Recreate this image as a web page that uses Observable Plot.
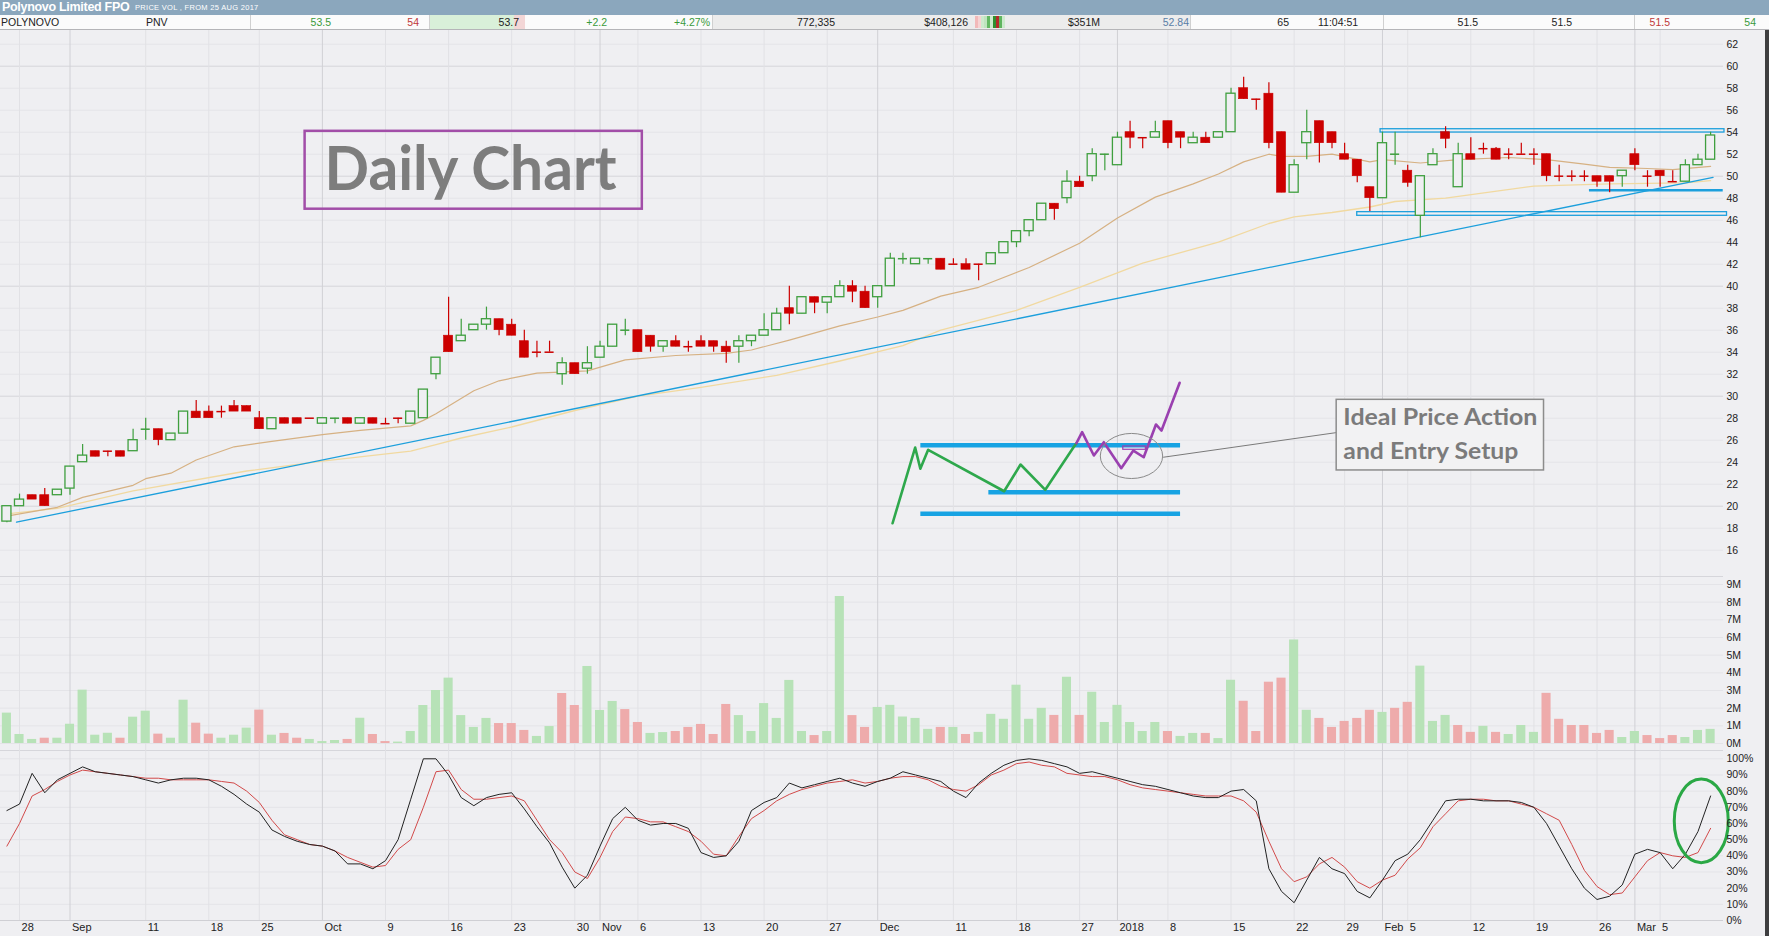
<!DOCTYPE html>
<html><head><meta charset="utf-8">
<script src="https://cdn.jsdelivr.net/npm/d3@7"></script>
<script src="https://cdn.jsdelivr.net/npm/@observablehq/plot@0.6"></script>
<style>
body{margin:0;width:1769px;height:936px;overflow:hidden;background:#efeff2;font-family:"Liberation Sans",Arial,sans-serif;position:relative}
.abs{position:absolute;white-space:nowrap}
#title{left:0;top:0;width:1769px;height:15px;background:#8ba7bd;color:#fff}
#row{left:0;top:15px;width:1769px;height:14px;background:#fbfbfb;border-bottom:1px solid #b5b5b8;font-size:10.5px;line-height:14px;color:#222}
.r{position:absolute;top:0;text-align:right;white-space:nowrap}
.l{position:absolute;top:0;white-space:nowrap}
.sep{position:absolute;top:0;width:1px;height:14px;background:#d0d0d0}
.g{color:#3a9a3a}.rd{color:#c03838}
</style></head><body>
<div id="title" class="abs">
  <span class="abs" style="left:2px;top:0;font-weight:bold;font-size:12.5px;line-height:15px;letter-spacing:-0.3px">Polynovo Limited FPO</span>
  <span class="abs" style="left:135px;top:0;font-size:7.5px;line-height:16px;letter-spacing:0.3px">PRICE VOL , FROM 25 AUG 2017</span>
</div>
<div id="row" class="abs">
  <div class="abs" style="left:429px;top:0;width:85px;height:14px;background:#d9f0d9"></div>
  <div class="abs" style="left:514px;top:0;width:11px;height:14px;background:#f3d6d6"></div>
  <div class="abs" style="left:712px;top:0;width:478px;height:14px;background:#ececec"></div>
  <div class="sep" style="left:250px"></div><div class="sep" style="left:429px"></div>
  <div class="sep" style="left:712px"></div><div class="sep" style="left:1190px"></div>
  <div class="sep" style="left:1383px"></div><div class="sep" style="left:1634px"></div>
  <span class="l" style="left:1px">POLYNOVO</span>
  <span class="l" style="left:146px">PNV</span>
  <span class="r g" style="right:1438px">53.5</span>
  <span class="r rd" style="right:1350px">54</span>
  <span class="r" style="right:1250px">53.7</span>
  <span class="r g" style="right:1162px">+2.2</span>
  <span class="r g" style="right:1059px">+4.27%</span>
  <span class="r" style="right:934px">772,335</span>
  <span class="r" style="right:801px">$408,126</span>
  <div id="mini" class="abs" style="left:970px;top:1px"></div>
  <span class="r" style="right:669px">$351M</span>
  <span class="r" style="right:580px;color:#5a7ea6">52.84</span>
  <span class="r" style="right:480px">65</span>
  <span class="l" style="left:1318px">11:04:51</span>
  <span class="r" style="right:291px">51.5</span>
  <span class="r" style="right:197px">51.5</span>
  <span class="r rd" style="right:99px">51.5</span>
  <span class="r g" style="right:13px">54</span>
</div>
<div id="price" class="abs" style="left:0;top:30px"></div>
<div class="abs" style="left:0;top:576px;width:1723px;height:1px;background:#d6d6db"></div>
<div id="vol" class="abs" style="left:0;top:577px"></div>
<div class="abs" style="left:0;top:750px;width:1723px;height:1px;background:#d6d6db"></div>
<div id="stoch" class="abs" style="left:0;top:750px"></div>
<div class="abs" style="left:1765px;top:30px;width:4px;height:906px;background:#3e3e40"></div>
<script>
// ---------- DATA ----------
const open = [18.6,20.0,21.0,21.0,21.0,21.6,24.0,25.0,25.0,25.0,
25.0,27.0,27.0,26.0,26.6,28.6,28.6,28.6,29.1,29.1,
28.0,27.0,28.0,28.0,28.0,27.5,28.0,28.0,27.5,28.0,
27.5,28.0,27.5,28.0,32.0,35.5,35.0,36.0,36.5,37.0,
36.5,35.0,34.0,34.0,32.0,33.0,32.5,33.5,34.5,36.0,
36.0,35.5,34.5,35.0,34.5,35.0,35.0,34.5,34.5,35.0,
35.5,36.0,38.0,37.5,39.0,38.5,39.0,40.0,39.5,39.0,
40.0,42.5,42.0,42.5,42.5,42.0,42.0,42.0,42.0,43.0,
44.0,45.0,46.0,47.5,48.0,49.5,50.0,52.0,51.0,54.0,
53.5,53.5,55.0,54.0,53.0,53.5,53.5,54.0,58.0,57.0,
57.5,54.0,48.5,53.0,55.0,54.0,52.0,51.5,49.0,48.0,
52.0,50.5,46.4,51.0,54.0,49.0,52.0,52.5,52.5,52.0,
52.0,52.0,52.0,50.0,50.0,50.0,50.0,50.0,50.0,52.0,
50.0,50.5,49.5,49.5,51.0,51.5];
const high = [20.0,21.1,21.0,21.6,21.5,23.6,25.6,25.0,25.0,25.0,
27.0,28.0,27.0,26.6,28.6,29.6,29.1,29.1,29.6,29.1,
28.6,28.0,28.0,28.0,28.0,28.0,28.0,28.0,28.0,28.0,
28.0,28.0,28.6,30.6,33.5,39.0,37.0,36.5,38.1,37.0,
37.0,36.0,35.0,35.0,33.5,33.0,34.5,35.0,36.5,37.0,
36.0,35.5,35.0,35.5,35.0,35.5,35.0,35.0,35.5,35.5,
37.5,38.0,40.0,39.0,39.0,39.0,40.5,40.5,40.0,40.0,
43.0,43.0,42.5,42.5,42.5,42.5,42.5,42.0,43.0,44.0,
45.0,46.0,47.5,47.5,50.5,50.0,52.5,52.0,54.0,55.0,
53.5,55.0,55.0,54.0,54.0,54.0,54.0,58.0,59.0,57.0,
58.5,54.0,51.5,56.0,55.0,54.0,53.0,51.5,49.0,54.0,
54.0,51.0,50.0,52.5,54.5,53.0,53.5,53.0,52.6,52.5,
53.0,52.5,52.0,51.0,50.5,50.5,50.0,50.0,50.5,52.5,
50.5,50.5,50.5,51.5,52.0,54.0];
const low = [18.5,20.0,20.6,20.0,21.0,21.0,24.0,24.5,24.5,24.5,
25.0,26.0,25.5,26.0,26.6,28.0,28.0,28.0,28.6,28.6,
27.0,27.0,27.5,27.5,28.0,27.5,27.5,27.5,27.5,27.5,
27.5,27.5,27.5,28.0,31.5,34.0,35.0,36.0,36.0,35.5,
35.5,33.5,33.5,34.0,31.0,32.0,32.0,33.5,34.5,35.5,
34.0,34.0,34.0,34.5,34.0,34.5,34.0,33.0,33.0,34.5,
35.5,36.0,36.5,37.5,37.5,37.5,39.0,38.5,38.0,38.0,
40.0,42.0,42.0,42.0,41.5,42.0,41.5,40.5,42.0,43.0,
43.5,44.5,46.0,46.0,47.5,49.0,49.5,50.5,51.0,52.5,
52.5,53.5,52.5,52.5,53.0,53.0,53.5,54.0,57.0,56.0,
52.5,48.5,48.5,51.5,51.2,52.5,51.5,49.4,46.8,48.0,
51.0,49.0,44.4,51.0,52.5,49.0,51.5,52.0,51.5,51.5,
52.0,51.0,49.5,49.5,49.5,49.5,49.0,48.5,49.0,50.5,
49.0,49.0,49.5,49.5,51.0,51.5];
const close = [20.0,20.6,20.6,20.0,21.5,23.6,24.6,24.5,25.0,24.5,
26.0,27.0,26.0,26.6,28.6,28.0,28.0,28.6,28.6,28.6,
27.0,28.0,27.5,27.5,28.0,28.0,28.0,27.5,28.0,27.5,
27.5,28.0,28.6,30.6,33.5,34.0,35.5,36.5,37.0,36.0,
35.5,33.5,34.0,34.0,33.0,32.0,33.0,34.5,36.5,36.0,
34.0,34.5,35.0,34.5,34.5,34.5,34.5,34.0,35.0,35.5,
36.0,37.5,37.5,39.0,38.5,39.0,40.0,39.5,38.0,40.0,
42.5,42.5,42.5,42.5,41.5,42.0,41.5,42.0,43.0,44.0,
45.0,46.0,47.5,47.0,49.5,49.0,52.0,52.0,53.5,53.5,
53.5,54.0,53.0,53.5,53.5,53.0,54.0,57.5,57.0,57.0,
53.0,48.5,51.0,54.0,53.0,53.0,51.5,50.0,48.0,53.0,
52.0,49.4,50.0,52.0,53.4,52.0,51.5,52.5,51.5,52.0,
52.0,52.0,50.0,50.0,50.0,50.0,49.5,49.5,50.5,51.0,
50.0,50.0,49.5,51.0,51.5,53.7];
// unchanged-price (doji) sessions drawn in green
const dojiGreen = [11,26,49,71,73,87,110];
// volume in millions of shares, and whether the session closed up (1) or down (0)
const volume = [1.72,0.51,0.23,0.30,0.30,1.09,3.02,0.47,0.58,0.30,
1.49,1.83,0.53,0.30,2.45,1.15,0.53,0.30,0.47,0.87,
1.89,0.47,0.57,0.30,0.23,0.11,0.17,0.23,1.43,0.51,
0.11,0.08,0.68,2.15,3.00,3.70,1.58,0.91,1.42,1.13,
1.13,0.74,0.40,0.96,2.83,2.15,4.36,1.87,2.38,1.92,
1.19,0.57,0.62,0.68,0.91,1.08,0.51,2.21,1.58,0.68,
2.26,1.42,3.57,0.68,0.45,0.68,8.32,1.58,0.91,2.04,
2.16,1.50,1.42,0.80,0.91,0.91,0.51,0.63,1.65,1.37,
3.30,1.37,1.99,1.59,3.75,1.59,2.90,1.19,2.16,1.19,
0.68,1.19,0.68,0.40,0.57,0.57,0.28,3.58,2.39,0.68,
3.47,3.70,5.86,1.88,1.42,0.91,1.25,1.42,1.88,1.76,
1.99,2.33,4.38,1.25,1.59,1.02,0.63,0.97,0.63,0.51,
1.02,0.63,2.84,1.37,1.02,1.02,0.57,0.74,0.34,0.68,
0.45,0.28,0.45,0.34,0.74,0.80];
const volUp = [1,1,1,0,1,1,1,1,1,0, 1,1,0,1,1,0,0,1,1,1, 0,1,0,0,1,1,1,0,1,0,
0,1,1,1,1,1,1,1,1,0, 0,0,1,1,0,0,1,1,1,0, 0,1,1,0,0,0,0,0,1,1,
1,1,1,1,0,1,1,0,0,1, 1,1,1,1,0,1,0,1,1,1, 1,1,1,0,1,0,1,1,1,1,
1,1,0,1,1,0,1,1,0,0, 0,0,1,1,0,0,0,0,0,1, 0,0,1,1,1,0,0,1,0,1,
1,1,0,0,0,0,0,0,1,1, 0,0,0,1,1,1];
// slow stochastic %K (black) and %D (red), percent
const stochK = [68,72,91,79,87,91,95,92,91,90, 89,87,85,87,88,88,87,83,78,72,
67,56,52,49,47,46,43,35,35,32, 37,50,75,100,100,90,76,71,76,78,
79,69,58,48,33,20,28,46,63,70, 62,59,60,60,57,42,39,40,49,68,
73,76,85,82,84,86,88,85,83,86, 88,92,90,88,86,80,76,85,91,96,
99,100,99,97,95,91,92,90,88,86, 84,83,81,79,77,76,76,80,81,74,
32,18,11,25,39,32,29,18,14,25, 37,41,50,62,74,75,75,74,74,74,
73,70,60,46,32,20,13,15,22,41, 44,42,32,41,55,77];
const stochD = [46,60,77,81,86,90,93,92,91,90, 89,88,88,87,87,87,87,86,85,80,
73,62,53,50,47,46,43,39,36,33, 34,44,50,70,92,93,81,75,75,76,
77,74,62,50,42,30,26,39,55,64, 63,61,61,58,55,49,41,40,52,63,
68,74,78,81,83,85,86,87,85,86, 88,89,89,87,83,81,80,84,90,93,
97,98,96,95,91,90,89,89,87,84, 82,81,80,79,78,77,77,77,74,67,
49,32,24,27,35,39,33,24,20,25, 28,38,45,58,66,74,75,75,74,74,
72,70,66,62,47,31,21,16,17,27, 37,42,40,39,42,57];
// moving averages: [session index, price]
const fastMA = [[0,19.1],[4,19.9],[6,20.8],[10,21.9],[11,22.5],[13,23.0],[15,24.2],[18,25.4],[21,25.9],[25,26.5],[28,26.9],[32,27.3],[33,27.8],[34,28.4],[37,30.5],[39,31.4],[42,32.1],[46,32.3],[49,33.3],[53,33.7],[57,33.9],[59,34.2],[62,35.1],[66,36.4],[69,37.2],[71,37.8],[74,39.1],[77,39.9],[81,41.7],[85,43.9],[88,46.2],[91,48.1],[94,49.3],[96,50.2],[98,51.3],[100,52.0],[101,51.8],[103,51.8],[105,52.0],[108,51.3],[109,51.5],[112,51.2],[115,51.5],[119,51.7],[122,51.5],[125,51.1],[127,50.8],[130,50.7],[132,50.6],[135,50.9]];
const slowMA = [[0,19.3],[4,19.8],[10,21.4],[19,23.2],[25,24.1],[32,25.0],[34,25.6],[36,26.2],[40,27.2],[45,28.7],[50,30.0],[55,30.8],[61,31.9],[66,33.2],[71,34.6],[74,36.0],[80,37.8],[85,39.9],[90,42.1],[96,44.0],[100,45.7],[102,46.3],[105,46.7],[108,47.2],[110,47.7],[114,48.0],[121,49.1],[127,49.3],[133,49.4],[135,49.6]];
const trendLine = [[0.76,18.55],[135.2,49.9]];
// drawn price levels (session index range, price range)
const levelBoxes = [{a:108.85,b:136.1,p1:53.97,p2:54.27},{a:107.0,b:136.3,p1:46.4,p2:46.73}];
const supportLevel = [{a:125.4,b:136.0,p:48.73}];
// "Ideal price action" sketch
const sketchLevels = [{a:72.42,b:93.0,p:25.55},{a:77.81,b:93.0,p:21.27},{a:72.42,b:93.0,p:19.31}];
const sketchGreen = [[70.18,18.45],[71.97,25.33],[72.38,23.4],[73.0,25.13],[79.02,21.36],[80.32,23.79],[82.28,21.49],[84.52,25.36],[84.75,25.73]];
const sketchPurple = [[84.75,25.73],[85.2,26.73],[86.13,24.61],[86.92,25.82],[88.3,23.45],[89.26,25.06],[90.08,24.45],[91.05,27.43],[91.49,26.88],[92.93,31.22]];
const sketchEntry = [{a:88.46,b:90.25,p1:25.13,p2:25.43}];
const sketchCircle = [{a:86.68,b:91.62,p1:22.47,p2:26.57}];
const calloutLink = [{a:91.62,p1:24.45,b:105.4,p2:26.7}];
const calloutBox = [{a:105.37,b:121.8,p1:23.25,p2:29.67}];
const calloutText = [{x:105.9,p:27.34,t:"Ideal Price Action"},{x:105.9,p:24.31,t:"and Entry Setup"}];
const titleBox = [{a:23.63,b:50.35,p1:47.0,p2:54.08}];
const titleText = [{x:36.74,p:48.75,t:"Daily Chart"}];
const stochCircle = [{a:132.16,b:136.44,v1:35.45,v2:87.15}];
// axis ticks
const priceTicks = d3.range(16, 63, 2);
const volTicks = d3.range(0, 10);
const pctTicks = d3.range(0, 101, 10);
const weekTicks = [1,11,16,20,30,35,40,45,50,55,60,65,75,80,85,92,97,102,106,111,116,121,126,131];
const weekLabels = ["28","11","18","25","9","16","23","30","6","13","20","27","11","18","27","8","15","22","29","5","12","19","26","5"];
const monthTicks = [5,25,47,69,88,109,129];
const monthLabels = ["Sep","Oct","Nov","Dec","2018","Feb","Mar"];
const miniBars = ["#f2b9b9","#f6d3d3","#cdeacd","#bfe4bf","#63b863","#cdeacd","#2f8f2f","#b52a2a","#5fb55f","#cdeacd"];

// ---------- CHART ----------
const W = 1769, MR = 46, BG = "#efeff2";
const GREEN = "#3f9f3f", RED = "#cc0000", BLUE = "#1c9fdc";
const X = {domain: [0, 135], range: [6.4, 1710.1], axis: null};
const HW = 0.36;
const baseStyle = {background: "none", overflow: "visible", fontFamily: "Liberation Sans, Arial, sans-serif", fontSize: "10.5px", color: "#222"};
const labelMap = new Map();
weekTicks.forEach((t, k) => labelMap.set(t, weekLabels[k]));
monthTicks.forEach((t, k) => labelMap.set(t, monthLabels[k]));
const allTicks = [...weekTicks, ...monthTicks].sort((a, b) => a - b);

const candles = d3.range(open.length).map(i => ({
  i, o: open[i], h: high[i], l: low[i], c: close[i],
  up: close[i] > open[i] || (close[i] === open[i] && dojiGreen.includes(i))
}));
const bodies = candles.filter(d => d.o !== d.c);
const dojis = candles.filter(d => d.o === d.c);
const xl = d => d.i - HW, xr = d => d.i + HW;
const gridMarks = [
  Plot.ruleX(weekTicks, {stroke: "#e1e1e5"}),
  Plot.ruleX(monthTicks, {stroke: "#d0d0d5"})
];

const price = Plot.plot({
  width: W, height: 547, marginLeft: 0, marginRight: MR, marginTop: 0, marginBottom: 0,
  x: X, y: {domain: [16, 62], range: [519.7, 13.7], axis: null},
  style: baseStyle,
  marks: [
    Plot.ruleY(priceTicks.filter(v => v % 10 !== 0), {stroke: "#e4e4e8"}),
    Plot.ruleY(priceTicks.filter(v => v % 10 === 0), {stroke: "#d5d5da"}),
    ...gridMarks,
    Plot.line(slowMA, {x: d => d[0], y: d => d[1], stroke: "#f1d9a0", strokeWidth: 1.3}),
    Plot.line(fastMA, {x: d => d[0], y: d => d[1], stroke: "#d6b183", strokeWidth: 1.2}),
    Plot.line(trendLine, {x: d => d[0], y: d => d[1], stroke: BLUE, strokeWidth: 1.3}),
    Plot.rect(levelBoxes, {x1: "a", x2: "b", y1: "p1", y2: "p2", fill: "none", stroke: BLUE, strokeWidth: 1.3}),
    Plot.ruleY(supportLevel, {y: "p", x1: "a", x2: "b", stroke: BLUE, strokeWidth: 2.5}),
    Plot.ruleX(candles.filter(d => d.up), {x: "i", y1: "l", y2: "h", stroke: GREEN, strokeWidth: 1.2}),
    Plot.ruleX(candles.filter(d => !d.up), {x: "i", y1: "l", y2: "h", stroke: RED, strokeWidth: 1.2}),
    Plot.rect(bodies.filter(d => d.up), {x1: xl, x2: xr, y1: "o", y2: "c", fill: BG, stroke: GREEN, strokeWidth: 1.3}),
    Plot.rect(bodies.filter(d => !d.up), {x1: xl, x2: xr, y1: "o", y2: "c", fill: RED, stroke: RED, strokeWidth: 0.6}),
    Plot.ruleY(dojis.filter(d => d.up), {y: "o", x1: xl, x2: xr, stroke: GREEN, strokeWidth: 1.5}),
    Plot.ruleY(dojis.filter(d => !d.up), {y: "o", x1: xl, x2: xr, stroke: RED, strokeWidth: 1.5}),
    // sketch
    Plot.ruleY(sketchLevels, {y: "p", x1: "a", x2: "b", stroke: "#17a3e3", strokeWidth: 4.5}),
    Plot.line(sketchGreen, {x: d => d[0], y: d => d[1], stroke: "#2ea84c", strokeWidth: 2.6}),
    Plot.line(sketchPurple, {x: d => d[0], y: d => d[1], stroke: "#9a40b0", strokeWidth: 2.6}),
    Plot.rect(sketchEntry, {x1: "a", x2: "b", y1: "p1", y2: "p2", fill: "none", stroke: "#9a40b0", strokeWidth: 1.2}),
    Plot.rect(sketchCircle, {x1: "a", x2: "b", y1: "p1", y2: "p2", rx: 500, ry: 500, fill: "none", stroke: "#8a8a8a", strokeWidth: 1}),
    Plot.link(calloutLink, {x1: "a", y1: "p1", x2: "b", y2: "p2", stroke: "#7a7a7a", strokeWidth: 1}),
    Plot.rect(calloutBox, {x1: "a", x2: "b", y1: "p1", y2: "p2", fill: "#f2f2f3", stroke: "#8c8c8c", strokeWidth: 1.5}),
    Plot.text(calloutText, {x: "x", y: "p", text: "t", textAnchor: "start", lineAnchor: "middle", dy: -7.4, fontSize: 23, fontWeight: "bold", fontFamily: "Lato, Open Sans, sans-serif", fill: "#7b7b7b"}),
    Plot.rect(titleBox, {x1: "a", x2: "b", y1: "p1", y2: "p2", fill: "none", stroke: "#a24ea8", strokeWidth: 2.5}),
    Plot.text(titleText, {x: "x", y: "p", text: "t", textAnchor: "middle", lineAnchor: "middle", dy: -19.5, fontSize: 61, fontWeight: "bold", fontFamily: "Lato, Open Sans, sans-serif", fill: "#7d7d7d"}),
    Plot.axisY({ticks: priceTicks, anchor: "right", tickSize: 0, tickPadding: 3, label: null})
  ]
});
const fit = {"Daily Chart": 292, "Ideal Price Action": 194, "and Entry Setup": 175};
price.querySelectorAll("text").forEach(t => {
  const L = fit[t.textContent];
  if (L) { t.setAttribute("textLength", L); t.setAttribute("lengthAdjust", "spacingAndGlyphs"); }
});
document.getElementById("price").appendChild(price);

const vols = volume.map((v, i) => ({i, v, up: volUp[i] === 1}));
const vol = Plot.plot({
  width: W, height: 173, marginLeft: 0, marginRight: MR, marginTop: 0, marginBottom: 0,
  x: X, y: {domain: [0, 9], range: [166, 7], axis: null},
  style: baseStyle,
  marks: [
    Plot.ruleY(volTicks, {stroke: "#e4e4e8"}),
    ...gridMarks,
    Plot.rect(vols.filter(d => d.up), {x1: xl, x2: xr, y1: 0, y2: "v", fill: "#b7e2b7"}),
    Plot.rect(vols.filter(d => !d.up), {x1: xl, x2: xr, y1: 0, y2: "v", fill: "#eeabab"}),
    Plot.axisY({ticks: volTicks, tickFormat: d => d + "M", anchor: "right", tickSize: 0, tickPadding: 3, label: null})
  ]
});
document.getElementById("vol").appendChild(vol);

const stoch = d3.range(stochK.length).map(i => ({i, k: stochK[i], d: stochD[i]}));
const st = Plot.plot({
  width: W, height: 186, marginLeft: 0, marginRight: MR, marginTop: 0, marginBottom: 16,
  x: X, y: {domain: [0, 100], range: [170, 8.3], axis: null},
  style: baseStyle,
  marks: [
    Plot.ruleY(pctTicks.filter(v => v > 0), {stroke: "#e4e4e8"}),
    ...gridMarks,
    Plot.ruleY([0], {stroke: "#cfcfd4"}),
    Plot.line(stoch, {x: "i", y: "d", stroke: "#d24a4a", strokeWidth: 1}),
    Plot.line(stoch, {x: "i", y: "k", stroke: "#222", strokeWidth: 1}),
    Plot.rect(stochCircle, {x1: "a", x2: "b", y1: "v1", y2: "v2", rx: 500, ry: 500, fill: "none", stroke: "#2aa845", strokeWidth: 3}),
    Plot.axisY({ticks: pctTicks, tickFormat: d => d + "%", anchor: "right", tickSize: 0, tickPadding: 3, label: null}),
    Plot.axisX({ticks: allTicks, tickFormat: d => labelMap.get(d), anchor: "bottom", tickSize: 0, tickPadding: 3, textAnchor: "start", dx: 2, fontSize: 11, label: null})
  ]
});
document.getElementById("stoch").appendChild(st);

const mini = Plot.plot({
  width: 40, height: 12, margin: 0, padding: 0.15,
  x: {axis: null}, y: {axis: null}, color: {type: "identity"},
  style: {background: "none"},
  marks: [Plot.cell(miniBars, {x: (d, i) => i, fill: d => d})]
});
document.getElementById("mini").appendChild(mini);
</script>
</body></html>
